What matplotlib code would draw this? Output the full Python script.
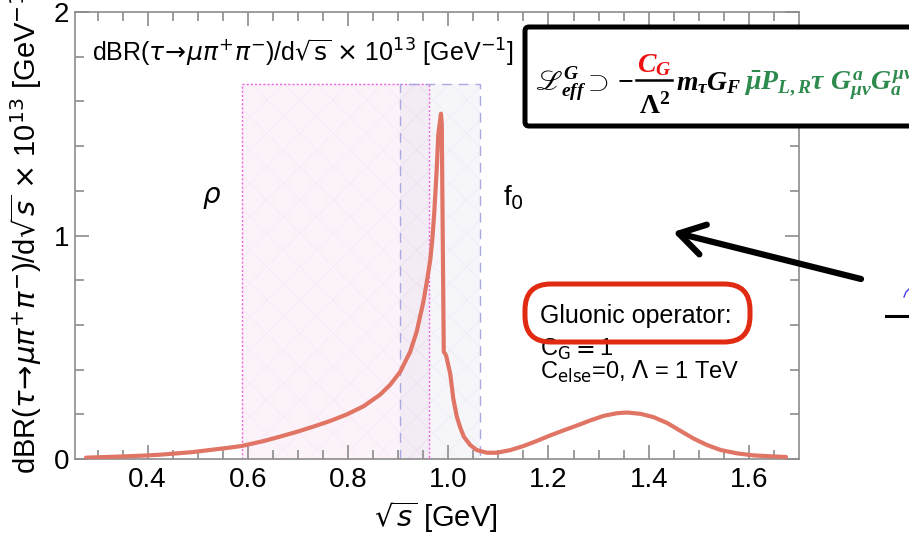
import numpy as np
import matplotlib
matplotlib.use('Agg')
import matplotlib.pyplot as plt
from matplotlib.patches import Rectangle, FancyBboxPatch
from matplotlib.lines import Line2D
from matplotlib.transforms import IdentityTransform

W, H = 909, 535

# curve
sqrt_s = [0.277, 0.32, 0.357, 0.39, 0.424, 0.457, 0.49, 0.523, 0.557, 0.587,
          0.631, 0.664, 0.697, 0.731, 0.764, 0.797, 0.831, 0.864, 0.884,
          0.904, 0.924, 0.937, 0.95, 0.957, 0.964, 0.968, 0.972, 0.977,
          0.980, 0.9854, 0.987, 0.991, 0.994, 0.996, 1.004, 1.010, 1.017,
          1.024, 1.031, 1.044, 1.057, 1.077, 1.097, 1.124, 1.15, 1.177,
          1.204, 1.23, 1.257, 1.284, 1.31, 1.337, 1.357, 1.384, 1.41, 1.437,
          1.464, 1.49, 1.517, 1.544, 1.577, 1.61, 1.644, 1.674]
dbr = [0.006, 0.009, 0.012, 0.015, 0.019, 0.025, 0.031, 0.040, 0.049, 0.058,
       0.080, 0.100, 0.121, 0.145, 0.170, 0.199, 0.236, 0.288, 0.332,
       0.39, 0.48, 0.57, 0.70, 0.79, 0.89, 0.98, 1.10, 1.30,
       1.45, 1.545, 1.50, 0.48, 0.47, 0.46, 0.38, 0.27, 0.19,
       0.14, 0.10, 0.062, 0.04, 0.028, 0.028, 0.04, 0.058, 0.081,
       0.106, 0.128, 0.150, 0.173, 0.193, 0.205, 0.208, 0.202, 0.187, 0.161,
       0.125, 0.091, 0.062, 0.04, 0.025, 0.016, 0.012, 0.009]

rho_band = (0.588, 0.962)
f0_band = (0.904, 1.064)
band_top = 1.68

xticks = [0.4, 0.6, 0.8, 1.0, 1.2, 1.4, 1.6]
xticklabels = ['0.4', '0.6', '0.8', '1.0', '1.2', '1.4', '1.6']
yticks = [0, 1, 2]

plt.rcParams['font.family'] = ['Liberation Sans', 'DejaVu Sans']
plt.rcParams['mathtext.fontset'] = 'dejavusans'
plt.rcParams['mathtext.rm'] = 'Liberation Serif:bold'
plt.rcParams['mathtext.it'] = 'Liberation Serif:italic:bold'
plt.rcParams['mathtext.bf'] = 'Liberation Serif:bold'
plt.rcParams['hatch.linewidth'] = 0.5


def px(x, y):
    # picture pixel (top-left origin) -> figure fraction
    return x / W, 1 - y / H


fig = plt.figure(figsize=(W / 100, H / 100), dpi=100)
l, b = px(75, 459)
ax = fig.add_axes([l, b, (799 - 75) / W, (459 - 12) / H])

gray = '#8c8c8c'

# shaded resonance regions
ax.add_patch(Rectangle((rho_band[0], 0), rho_band[1] - rho_band[0], band_top,
                       facecolor='#fcf3fa', edgecolor='#f9e8f4', hatch='x',
                       lw=0, zorder=1))
ax.add_patch(Rectangle((f0_band[0], 0), f0_band[1] - f0_band[0], band_top,
                       facecolor='#dedbea', edgecolor='#d6d3e4', hatch='x',
                       lw=0, alpha=0.25, zorder=1))
ax.plot([rho_band[0], rho_band[0], rho_band[1], rho_band[1]],
        [0, band_top, band_top, 0], color='#ee66dd', lw=1.0, ls=(0, (1.5, 1.5)),
        zorder=2)
ax.plot([f0_band[0], f0_band[0], f0_band[1], f0_band[1]],
        [0, band_top, band_top, 0], color='#a9a9e2', lw=1.0, ls=(0, (7, 5)),
        zorder=2)

ax.plot(sqrt_s, dbr, color='#e07565', lw=3.0, solid_joinstyle='round',
        solid_capstyle='round', zorder=3)

ax.set_xlim(0.255, 1.70)
ax.set_ylim(0, 1.98)
ax.set_xticks(xticks)
ax.set_xticklabels(xticklabels)
ax.set_xticks(np.arange(0.30, 1.70, 0.05), minor=True)
ax.set_yticks(yticks)
ax.set_yticks(np.arange(0, 2.0, 0.2), minor=True)
ax.tick_params(which='both', direction='in', top=True, right=True,
               color=gray, width=1.2, labelsize=20)
ax.tick_params(which='major', length=10)
ax.tick_params(which='minor', length=6.5)
ax.tick_params(axis='x', pad=6)
ax.tick_params(axis='y', pad=4)
for sp in ax.spines.values():
    sp.set_color(gray)
    sp.set_linewidth(1.2)

ax.text(0.528, 1.17, r'$\rho$', fontsize=20, ha='center', va='center')
ax.text(1.13, 1.17, r'f$_0$', fontsize=20, ha='center', va='center')

title = (r'dBR($\tau\!\rightarrow\!\mu\pi^{+}\pi^{-}$)/d$\sqrt{\rm s}$ '
         r'$\times$ 10$^{13}$ [GeV$^{-1}$]')
fig.text(*px(92, 62), title, fontsize=18, ha='left', va='baseline')

ylab = (r'dBR($\tau\!\rightarrow\!\mu\pi^{+}\pi^{-}$)/d$\sqrt{s}$ '
        r'$\times$ 10$^{13}$ [GeV$^{-1}$]')
fig.text(*px(26, 474), ylab, fontsize=21, rotation=90, ha='center',
         va='bottom')
fig.text(*px(436, 527), r'$\sqrt{s}$ [GeV]', fontsize=21, ha='center',
         va='baseline')

# operator annotation
fig.text(*px(540, 323), 'Gluonic operator:', fontsize=18, ha='left',
         va='baseline', zorder=3)
fig.text(*px(540, 356), r'C$_{\rm G}$$\equiv$1', fontsize=17, ha='left',
         va='baseline', zorder=3)
fig.text(*px(540, 379), r'C$_{\rm else}$=0, $\Lambda$ = 1 TeV', fontsize=17,
         ha='left', va='baseline', zorder=3)
fig.add_artist(FancyBboxPatch((525, H - 342), 225, 58,
                              boxstyle='round,pad=0,rounding_size=26',
                              transform=IdentityTransform(), lw=3.6,
                              ec='#e12a12', fc='none', zorder=5))

# arrow
ax.annotate('', xy=px(673, 232), xytext=px(861, 279),
            xycoords='figure fraction', textcoords='figure fraction',
            arrowprops=dict(arrowstyle='->,head_length=0.9,head_width=0.55',
                            lw=4.5, color='black', mutation_scale=20,
                            shrinkA=0, shrinkB=0),
            annotation_clip=False)
# pieces of a neighbouring drawing cut by the right edge
fig.add_artist(Line2D([886, 912], [H - 316, H - 316], color='black', lw=2.2,
                      transform=IdentityTransform()))
fig.add_artist(Line2D([904, 906, 909], [H - 297, H - 292, H - 289],
                      color='#4a3cf0', lw=1.0, transform=IdentityTransform()))

# Lagrangian box
fig.add_artist(FancyBboxPatch((525, H - 126), 420, 99,
                              boxstyle='round,pad=0,rounding_size=4',
                              transform=IdentityTransform(), lw=3.6,
                              ec='black', fc='white', zorder=4))

fig.canvas.draw()
rend = fig.canvas.get_renderer()
base = H - 90
green = '#2e8b4e'
fs = 20


def piece(x, s, color, y=base, ha='left'):
    t = fig.text(x, y, s, color=color, fontsize=fs, ha=ha, va='baseline',
                 transform=IdentityTransform(), math_fontfamily='custom',
                 zorder=6)
    return t.get_window_extent(rend)


bb = piece(535, '$\u2112^{G}_{eff}\\supset-$', 'black')
cx = bb.x1 + 20
piece(cx, r'$C_{G}$', '#ee1111', y=H - 72, ha='center')
piece(cx, r'$\Lambda^{2}$', 'black', y=H - 114, ha='center')
fig.add_artist(Line2D([cx - 18, cx + 18], [H - 80, H - 80], color='black',
                      lw=1.8, transform=IdentityTransform(), zorder=6))
bb = piece(cx + 22, r'$m_{\tau}G_{F}$', 'black')
piece(bb.x1 + 2, r'$\bar{\mu}P_{L,R}\tau\ G^{a}_{\mu\nu}G^{\mu\nu}_{a}$', green)

fig.savefig('out.png', dpi=100)
